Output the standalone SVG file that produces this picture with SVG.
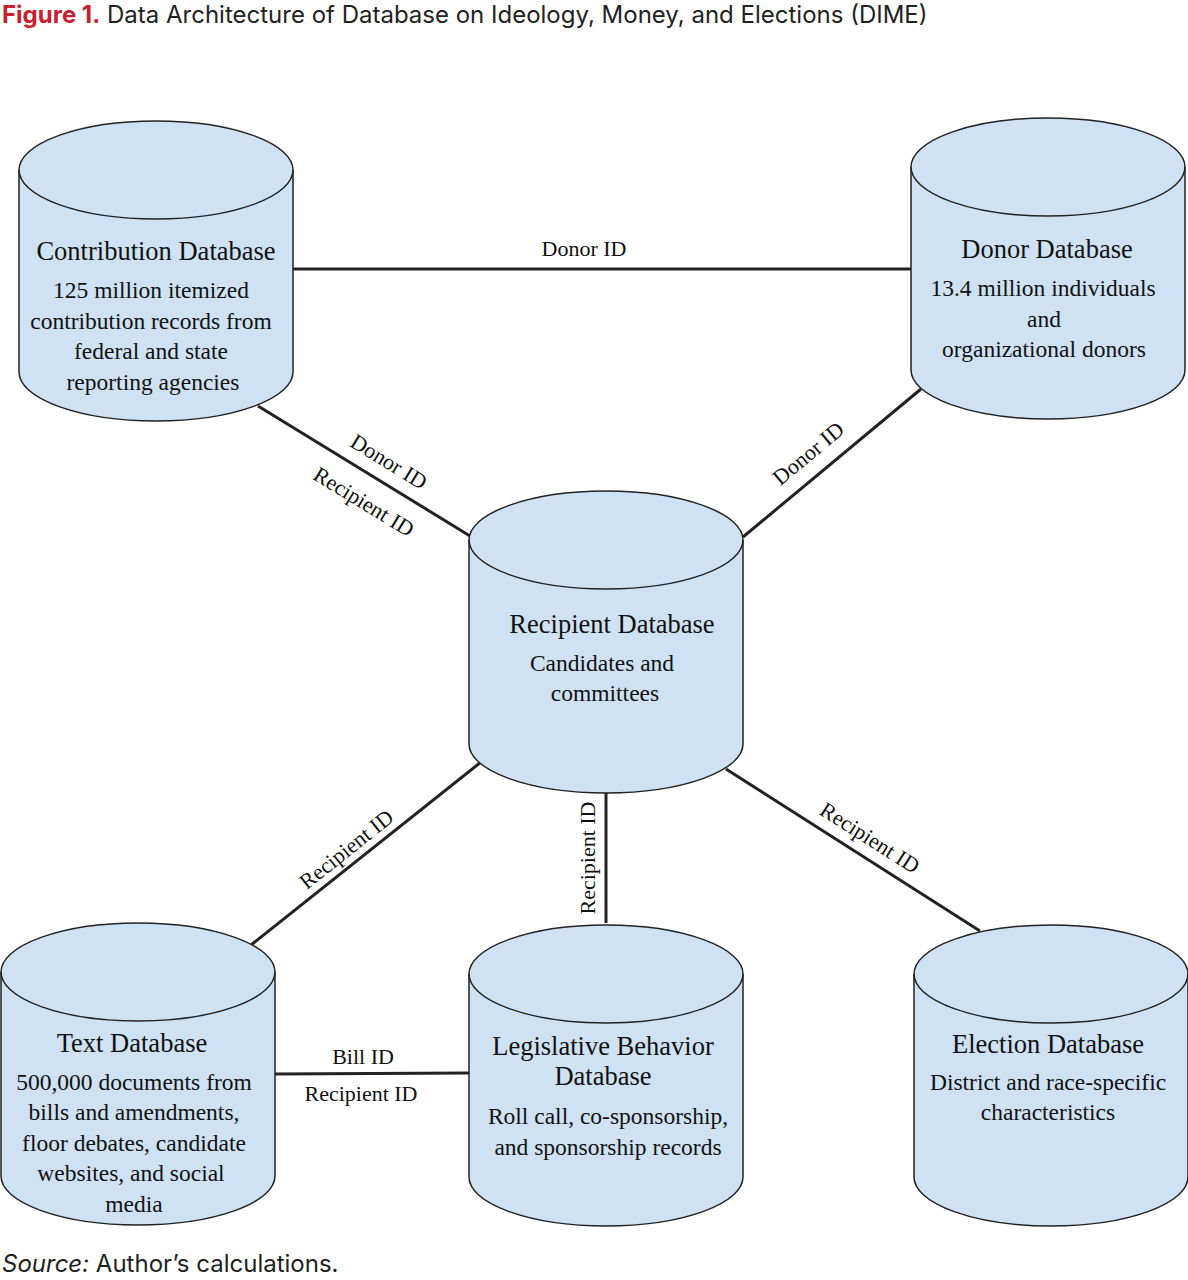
<svg xmlns="http://www.w3.org/2000/svg" width="1188" height="1280" viewBox="0 0 1188 1280">
<style>
.cyl{fill:#cfe2f3;stroke:#222;stroke-width:1.5}
.arc{fill:none;stroke:#222;stroke-width:1.5}
.t{font-family:"Liberation Serif",serif;font-size:26.5px;fill:#111;text-anchor:middle}
.b{font-family:"Liberation Serif",serif;font-size:23.5px;fill:#111;text-anchor:middle}
.l{font-family:"Liberation Serif",serif;font-size:22px;fill:#111;text-anchor:middle}
.c line{stroke:#222;stroke-width:3}
</style>
<rect width="1188" height="1280" fill="#fff"/>
<text x="2" y="23" font-family="Inter, 'Liberation Sans', sans-serif" font-size="24px" fill="#222"><tspan fill="#c8202f" font-weight="bold">Figure 1.</tspan> Data Architecture of Database on Ideology, Money, and Elections (DIME)</text>
<g class="c" id="connectors">
<line x1="293" y1="269" x2="911" y2="269"/>
<line x1="258" y1="406" x2="470" y2="536"/>
<line x1="921" y1="389" x2="743" y2="537"/>
<line x1="481" y1="762" x2="251" y2="945"/>
<line x1="606" y1="793" x2="606" y2="923"/>
<line x1="726" y1="769" x2="980" y2="931"/>
<line x1="275" y1="1074" x2="469" y2="1073"/>
<text class="l" x="584" y="256">Donor ID</text>
<text class="l" transform="translate(385,468) rotate(31.5)">Donor ID</text>
<text class="l" transform="translate(360,508) rotate(31.5)">Recipient ID</text>
<text class="l" transform="translate(813,459) rotate(-39.7)">Donor ID</text>
<text class="l" transform="translate(351,855) rotate(-38.5)">Recipient ID</text>
<text class="l" transform="translate(595,858) rotate(-90)">Recipient ID</text>
<text class="l" transform="translate(866,844) rotate(32.5)">Recipient ID</text>
<text class="l" x="363" y="1064">Bill ID</text>
<text class="l" x="361" y="1101">Recipient ID</text>
</g>
<g id="contribution">
<path class="cyl" d="M19,170 A137,49 0 0 1 293,170 V372 A137,49 0 0 1 19,372 Z"/>
<path class="arc" d="M19,170 A137,49 0 0 0 293,170"/>
<text class="t" x="156" y="260">Contribution Database</text>
<text class="b" x="151" y="298">125 million itemized</text>
<text class="b" x="151" y="329">contribution records from</text>
<text class="b" x="151" y="359">federal and state</text>
<text class="b" x="153" y="390">reporting agencies</text>
</g>
<g id="donor">
<path class="cyl" d="M911,167 A137,49 0 0 1 1185,167 V370 A137,49 0 0 1 911,370 Z"/>
<path class="arc" d="M911,167 A137,49 0 0 0 1185,167"/>
<text class="t" x="1047" y="258">Donor Database</text>
<text class="b" x="1043" y="296">13.4 million individuals</text>
<text class="b" x="1044" y="327">and</text>
<text class="b" x="1044" y="357">organizational donors</text>
</g>
<g id="recipient">
<path class="cyl" d="M469,540 A137,49 0 0 1 743,540 V744 A137,49 0 0 1 469,744 Z"/>
<path class="arc" d="M469,540 A137,49 0 0 0 743,540"/>
<text class="t" x="612" y="633">Recipient Database</text>
<text class="b" x="602" y="671">Candidates and</text>
<text class="b" x="605" y="701">committees</text>
</g>
<g id="text">
<path class="cyl" d="M1,972 A137,49 0 0 1 275,972 V1176 A137,49 0 0 1 1,1176 Z"/>
<path class="arc" d="M1,972 A137,49 0 0 0 275,972"/>
<text class="t" x="132" y="1052">Text Database</text>
<text class="b" x="134" y="1090">500,000 documents from</text>
<text class="b" x="134" y="1120">bills and amendments,</text>
<text class="b" x="134" y="1151">floor debates, candidate</text>
<text class="b" x="131" y="1181">websites, and social</text>
<text class="b" x="134" y="1212">media</text>
</g>
<g id="legislative">
<path class="cyl" d="M469,974 A137,49 0 0 1 743,974 V1177 A137,49 0 0 1 469,1177 Z"/>
<path class="arc" d="M469,974 A137,49 0 0 0 743,974"/>
<text class="t" x="603" y="1055">Legislative Behavior</text>
<text class="t" x="603" y="1085">Database</text>
<text class="b" x="608" y="1124">Roll call, co-sponsorship,</text>
<text class="b" x="608" y="1155">and sponsorship records</text>
</g>
<g id="election">
<path class="cyl" d="M914,974 A137,49 0 0 1 1188,974 V1177 A137,49 0 0 1 914,1177 Z"/>
<path class="arc" d="M914,974 A137,49 0 0 0 1188,974"/>
<text class="t" x="1048" y="1053">Election Database</text>
<text class="b" x="1048" y="1090">District and race-specific</text>
<text class="b" x="1048" y="1120">characteristics</text>
</g>
<text x="2" y="1272" font-family="Inter, 'Liberation Sans', sans-serif" font-size="24px" fill="#222"><tspan font-style="italic">Source:</tspan> Author’s calculations.</text>
</svg>
